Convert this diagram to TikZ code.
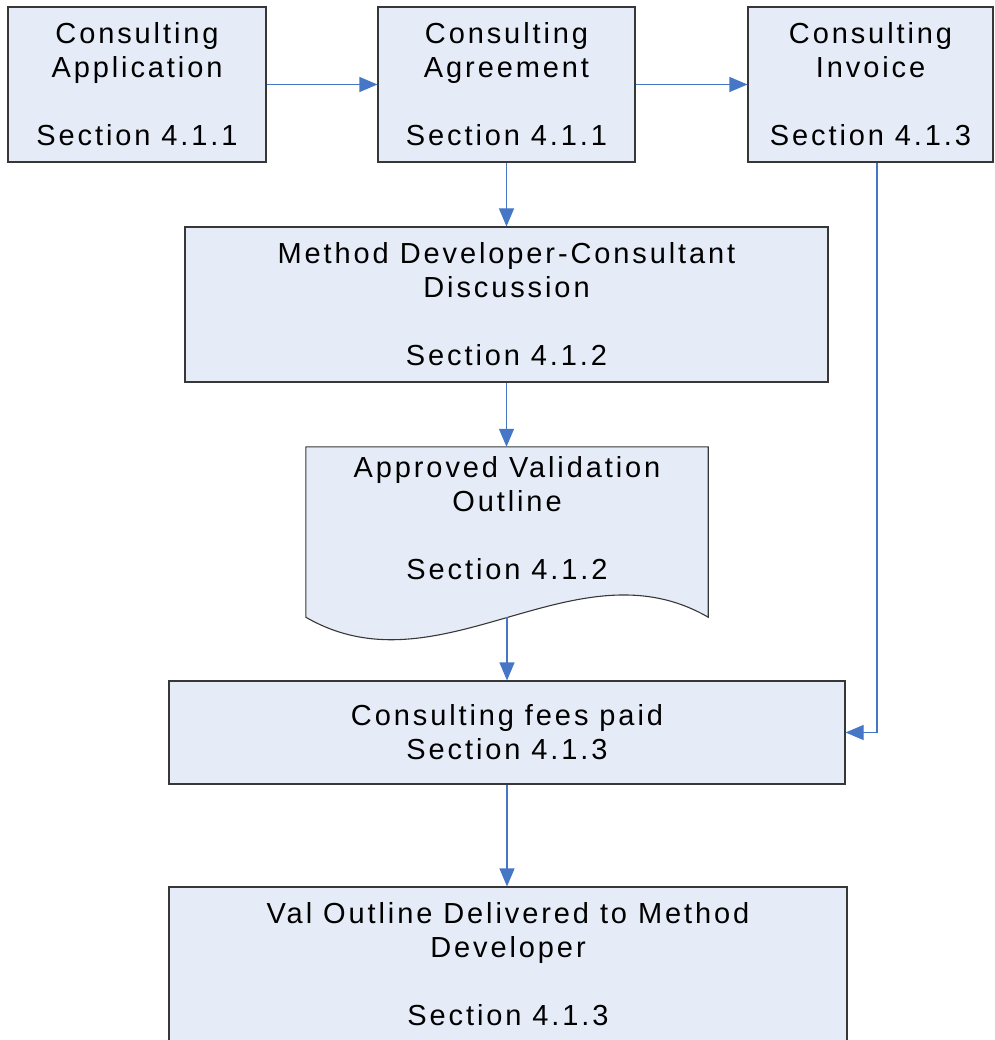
\documentclass[tikz,border=0pt]{standalone}
\usepackage{fontspec}
\newfontfamily\lbl{Liberation Sans}[LetterSpace=10]
\usetikzlibrary{arrows.meta}
\definecolor{boxfill}{RGB}{230,236,247}
\definecolor{boxline}{RGB}{55,55,55}
\definecolor{connc}{RGB}{70,118,198}
\begin{document}
\begin{tikzpicture}[x=1pt,y=-1pt,
  box/.style={draw=boxline, fill=boxfill, line width=1.1pt, inner sep=0pt, align=center, font=\lbl\fontsize{29}{34}\selectfont},
  txt/.style={inner sep=0pt, align=center, font=\lbl\fontsize{29}{34}\selectfont},
  conn/.style={draw=connc, line width=1.1pt, -{Triangle[length=18pt,width=15pt]}}]
\useasboundingbox (0,0) rectangle (994,1040);
\node[box, minimum width=258pt, minimum height=155pt] (A) at (137,84.5) {Consulting\\Application\\[34pt]Section 4.1.1};
\node[box, minimum width=257pt, minimum height=155pt] (B) at (506.5,84.5) {Consulting\\Agreement\\[34pt]Section 4.1.1};
\node[box, minimum width=245pt, minimum height=155pt] (C) at (870.5,84.5) {Consulting\\Invoice\\[34pt]Section 4.1.3};
\node[box, minimum width=643pt, minimum height=155pt] (D) at (506.5,304.5) {Method Developer-Consultant\\Discussion\\[34pt]Section 4.1.2};
% document shape
\node[minimum width=402pt, minimum height=170pt, inner sep=0pt] (E) at (507,532) {};
\draw[draw=boxline, fill=boxfill, line width=1.1pt] (E.north west) -- (E.north east) -- (E.south east)
  .. controls (575,540) and (440,695) .. (E.south west) -- cycle;
\node[txt] (Et) at (507,518) {Approved Validation\\Outline\\[34pt]Section 4.1.2};
\coordinate (Ebot) at (507,617.4);
\node[box, minimum width=676pt, minimum height=103pt] (F) at (507,732.5) {Consulting fees paid\\Section 4.1.3};
\node[box, minimum width=678pt, minimum height=158pt] (G) at (508,966) {};
\node[txt] (Gt) at (508,964) {Val Outline Delivered to Method\\Developer\\[34pt]Section 4.1.3};
% connectors
\draw[conn] (A.east) -- (B.west);
\draw[conn] (B.east) -- (C.west);
\draw[conn] (B.south) -- (B.south |- D.north);
\draw[conn] (D.south) -- (D.south |- E.north);
\draw[conn] (Ebot) -- (Ebot |- F.north);
\draw[conn] ([xshift=6.5pt]C.south) |- (F.east);
\draw[conn] (F.south) -- (F.south |- G.north);
\end{tikzpicture}
\end{document}
